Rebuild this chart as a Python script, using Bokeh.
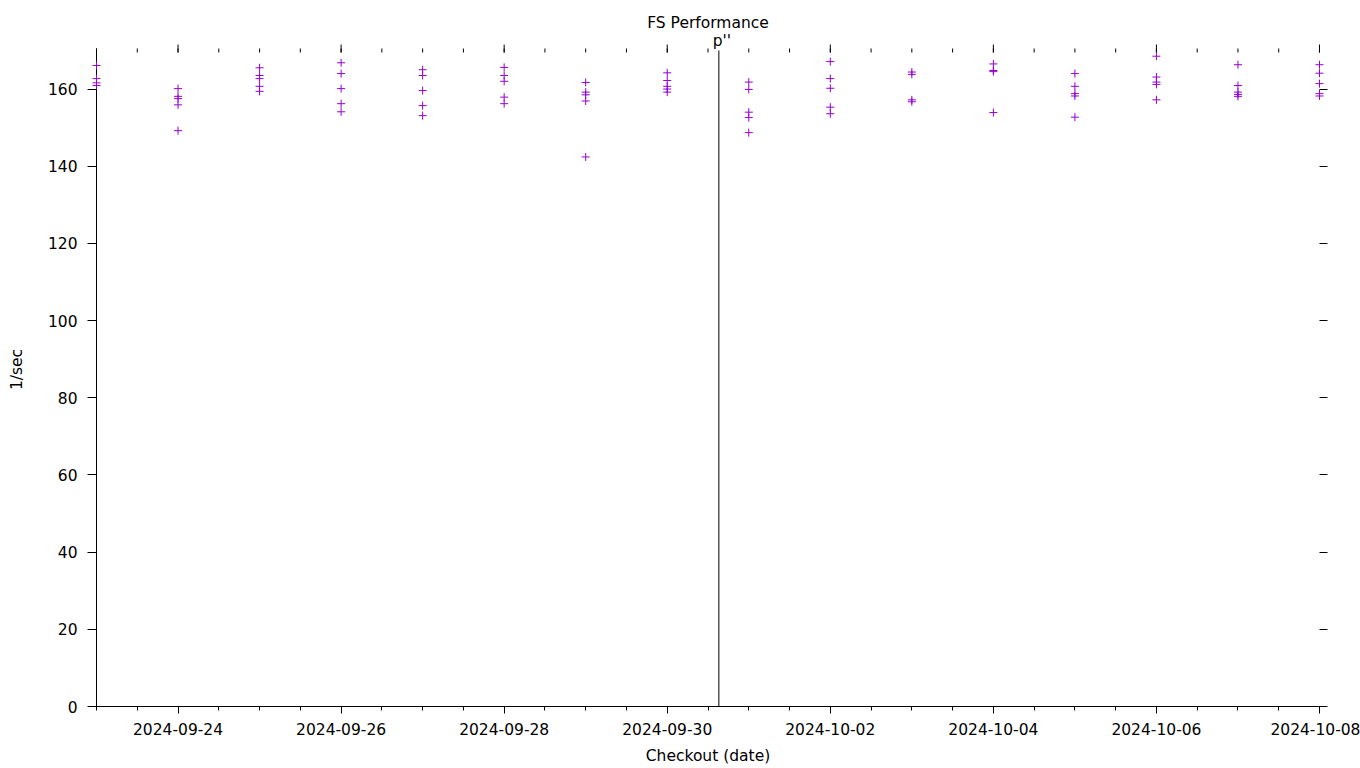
import pandas as pd
from bokeh.plotting import figure
from bokeh.models import (FixedTicker, LinearAxis, DatetimeTickFormatter,
                          CustomJSTickFormatter, Label, Range1d, ColumnDataSource)
from bokeh.embed import file_html
from bokeh.resources import INLINE

# ---------------- data ----------------
checkout_dates = ["2024-09-23", "2024-09-24", "2024-09-25", "2024-09-26",
                  "2024-09-27", "2024-09-28", "2024-09-29", "2024-09-30",
                  "2024-10-01", "2024-10-02", "2024-10-03", "2024-10-04",
                  "2024-10-05", "2024-10-06", "2024-10-07", "2024-10-08"]
rates_per_date = [
    [166.1, 162.7, 161.6, 160.9],
    [160.1, 158.1, 157.5, 155.9, 149.2],
    [165.5, 163.5, 162.7, 160.7, 159.4],
    [166.8, 164.0, 160.1, 156.2, 154.1],
    [165.0, 163.5, 159.6, 155.7, 153.1],
    [165.6, 163.5, 162.0, 157.9, 156.2],
    [161.7, 159.2, 158.5, 156.9, 142.4],
    [164.2, 162.2, 160.7, 160.0, 159.2],
    [161.8, 159.9, 154.0, 152.6, 148.7],
    [167.1, 162.7, 160.2, 155.3, 153.6],
    [164.4, 163.8, 157.2, 156.7],
    [166.5, 164.8, 164.5, 153.9],
    [164.0, 160.7, 158.8, 158.2, 152.7],
    [168.5, 163.1, 161.8, 161.2, 157.2],
    [166.3, 160.9, 159.2, 158.6, 158.1],
    [166.3, 164.1, 161.4, 158.8, 158.2],
]
x_major_dates = ["2024-09-24", "2024-09-26", "2024-09-28", "2024-09-30",
                 "2024-10-02", "2024-10-04", "2024-10-06", "2024-10-08"]
y_ticks = [0, 20, 40, 60, 80, 100, 120, 140, 160]
x_start_date = "2024-09-23"
x_end_date = "2024-10-08"
y_axis_max = 170.5
marker_date = "2024-09-30 15:12"
marker_text = "p''"
title_text = "FS Performance"
x_label = "Checkout (date)"
y_label = "1/sec"

# ---------------- build ----------------
def ms(s):
    return pd.Timestamp(s).value / 1e6

DAY = 86400000.0
xs, ys = [], []
for d, vals in zip(checkout_dates, rates_per_date):
    for v in vals:
        xs.append(pd.Timestamp(d))
        ys.append(v)
src = ColumnDataSource(dict(x=xs, y=ys))

PX_PER_DAY = 81.53
PX_PER_UNIT = 3.8592
pad = 5 / PX_PER_DAY  # small padding (days) so edge markers are not clipped
x0 = ms(x_start_date) - pad * DAY
x1 = ms(x_end_date) + pad * DAY
TOP_PAD_PX = 16        # room above the axes for the marker label
y_end = y_axis_max + TOP_PAD_PX / PX_PER_UNIT

FONT = "DejaVu Sans"
FS = "15.5px"

p = figure(width=1360, height=768, x_axis_type="datetime",
           output_backend="svg", toolbar_location=None,
           x_range=Range1d(x0, x1), y_range=Range1d(0, y_end),
           min_border_left=91, min_border_right=36,
           min_border_top=32, min_border_bottom=62,
           title=title_text)
p.outline_line_color = None
p.xgrid.grid_line_color = None
p.ygrid.grid_line_color = None
p.background_fill_color = "white"
p.border_fill_color = "white"

p.title.align = "center"
p.title.text_font = FONT
p.title.text_font_size = FS
p.title.text_font_style = "normal"
p.title.text_color = "black"
p.title.standoff = 2

major_ms = [ms(d) for d in x_major_dates]
n_half = int(round((ms(x_end_date) - ms(x_start_date)) / (DAY / 2)))
minor_ms = [ms(x_start_date) + i * DAY / 2 for i in range(n_half + 1)]

# bottom axis
xa = p.xaxis[0]
xa.ticker = FixedTicker(ticks=major_ms, minor_ticks=minor_ms)
fmt = "%Y-%m-%d"
xa.formatter = DatetimeTickFormatter(milliseconds=fmt, seconds=fmt, minsec=fmt,
                                     minutes=fmt, hourmin=fmt, hours=fmt,
                                     days=fmt, months=fmt, years=fmt)
xa.major_tick_out = 7
xa.major_tick_in = 0
xa.minor_tick_out = 4
xa.minor_tick_in = 0
xa.major_label_standoff = 9
xa.axis_label = x_label
xa.axis_label_standoff = 9
xa.axis_label_text_font_style = "normal"
xa.minor_tick_line_color = "black"

# left axis
ya = p.yaxis[0]
ya.ticker = FixedTicker(ticks=y_ticks)
ya.axis_line_color = None
ya.major_tick_in = 5
ya.major_tick_out = 4
ya.minor_tick_line_color = None
ya.major_label_standoff = 10
ya.axis_label = y_label
ya.axis_label_standoff = 19
ya.axis_label_text_font_style = "normal"

for ax in (xa, ya):
    ax.major_label_text_font = FONT
    ax.major_label_text_font_size = FS
    ax.major_label_text_color = "black"
    ax.axis_label_text_font = FONT
    ax.axis_label_text_font_size = FS
    ax.axis_label_text_color = "black"
    ax.major_tick_line_color = "black"

# mirrored ticks on the right
empty = CustomJSTickFormatter(code="return ''")
ra = LinearAxis(ticker=FixedTicker(ticks=y_ticks), formatter=empty,
                axis_line_color=None, major_tick_in=5, major_tick_out=3,
                minor_tick_line_color=None, major_label_standoff=0,
                major_label_text_font_size="1px")
p.add_layout(ra, "right")

# left border line (ends at the top of the axis range)
p.segment(x0=[ms(x_start_date)], y0=[0], x1=[ms(x_start_date)], y1=[y_axis_max],
          line_color="black", line_width=1)

# mirrored ticks along the top of the axis range
maj_len = 8 / PX_PER_UNIT
min_len = 4 / PX_PER_UNIT
top_base = y_axis_max - 4 / PX_PER_UNIT
p.segment(x0=major_ms, y0=[top_base] * len(major_ms),
          x1=major_ms, y1=[top_base + maj_len] * len(major_ms),
          line_color="black", line_width=1)
p.segment(x0=minor_ms, y0=[top_base] * len(minor_ms),
          x1=minor_ms, y1=[top_base + min_len] * len(minor_ms),
          line_color="black", line_width=1)

# data
p.scatter(x="x", y="y", source=src, marker="cross", size=8,
          line_color="#9400d3", line_width=1)

# event marker line and its label
p.segment(x0=[ms(marker_date)], y0=[0], x1=[ms(marker_date)],
          y1=[y_axis_max - 2 / PX_PER_UNIT], line_color="black", line_width=1)
p.add_layout(Label(x=ms(marker_date), y=y_axis_max + 8 / PX_PER_UNIT,
                   x_offset=3, text=marker_text,
                   text_align="center", text_baseline="alphabetic",
                   text_font=FONT, text_font_size=FS, text_color="black"))

open("out.html", "w").write(file_html(p, INLINE))
